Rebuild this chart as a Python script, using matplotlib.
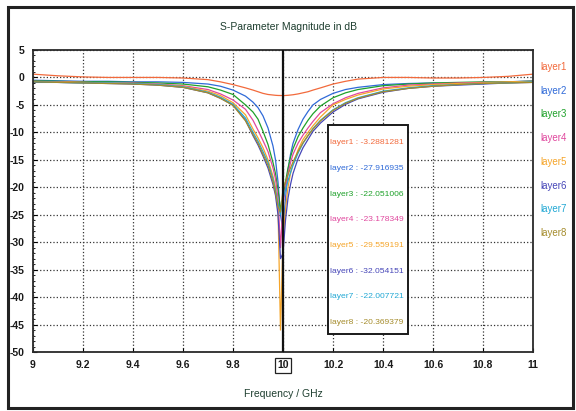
import matplotlib
matplotlib.use("Agg")
import matplotlib.pyplot as plt
from matplotlib.patches import Rectangle

plt.rcParams["font.family"] = ["Liberation Sans", "DejaVu Sans"]
plt.rcParams["axes.unicode_minus"] = False

# ---------- data ----------
freq = [9.0, 9.1, 9.2, 9.3, 9.4, 9.5, 9.6, 9.7, 9.75, 9.8, 9.85, 9.88, 9.9,
        9.92, 9.94, 9.96, 9.97, 9.98, 9.99, 10.0, 10.01, 10.02, 10.03, 10.04,
        10.06, 10.08, 10.1, 10.12, 10.15, 10.2, 10.25, 10.3, 10.4, 10.5, 10.6,
        10.7, 10.8, 10.9, 11.0]

layer1 = [0.6, 0.3, 0.1, 0.0, 0.0, 0.0, -0.1, -0.4, -0.8, -1.3, -1.9, -2.3, -2.6,
          -2.9, -3.1, -3.2, -3.25, -3.28, -3.29, -3.288, -3.28, -3.25, -3.2, -3.15,
          -3.0, -2.8, -2.6, -2.3, -1.9, -1.2, -0.7, -0.3, 0.0, 0.0, -0.1,
          -0.1, 0.0, 0.2, 0.6]
layer2 = [-0.5, -0.6, -0.7, -0.7, -0.8, -0.8, -0.9, -1.2, -1.6, -2.3, -3.4, -4.5, -5.5,
          -7.0, -9.2, -12.5, -15.0, -19.0, -25.0, -27.92, -22.0, -17.0, -14.0, -12.0,
          -9.5, -7.6, -6.2, -5.0, -4.0, -2.9, -2.2, -1.8, -1.3, -1.1, -1.0,
          -1.2, -1.1, -0.8, -0.6]
layer3 = [-0.6, -0.7, -0.8, -0.8, -0.9, -1.0, -1.2, -1.7, -2.3, -3.1, -5.0, -6.3, -7.6,
          -9.8, -12.2, -15.5, -17.5, -20.5, -24.0, -22.05, -19.0, -16.5, -14.5, -13.0,
          -10.8, -9.2, -7.8, -6.6, -5.2, -3.7, -2.8, -2.2, -1.5, -1.2, -1.0,
          -0.9, -0.8, -0.8, -0.7]
layer4 = [-0.7, -0.8, -0.9, -1.0, -1.0, -1.2, -1.5, -2.2, -3.0, -4.1, -5.8, -7.8, -9.6,
          -11.5, -13.5, -16.5, -18.5, -22.0, -31.0, -23.18, -20.0, -17.5, -15.5, -14.0,
          -12.0, -10.5, -9.2, -8.0, -6.4, -4.8, -3.7, -2.9, -1.9, -1.4, -1.2,
          -1.0, -0.9, -0.9, -0.8]
layer5 = [-0.8, -0.8, -0.9, -1.0, -1.1, -1.3, -1.6, -2.5, -3.3, -4.6, -6.8, -9.4, -11.0,
          -12.8, -15.0, -18.0, -20.0, -24.0, -46.0, -29.56, -24.0, -20.0, -17.5, -15.8,
          -13.2, -11.3, -10.0, -8.8, -7.2, -5.0, -4.0, -3.2, -2.1, -1.6, -1.3,
          -1.1, -1.0, -0.8, -0.7]
layer6 = [-0.9, -0.9, -1.0, -1.1, -1.2, -1.4, -1.8, -2.8, -3.8, -5.0, -7.8, -10.6, -12.3,
          -14.3, -16.5, -19.5, -21.5, -25.0, -33.0, -32.05, -26.0, -22.0, -19.5, -17.5,
          -14.8, -12.8, -11.3, -9.8, -8.3, -6.3, -4.9, -3.9, -2.7, -2.0, -1.6,
          -1.4, -1.2, -1.0, -0.9]
layer7 = [-0.8, -0.9, -1.0, -1.0, -1.1, -1.3, -1.7, -2.7, -3.6, -4.9, -7.4, -10.0, -11.6,
          -13.5, -15.5, -18.5, -20.5, -23.0, -25.0, -22.01, -20.5, -18.8, -17.3, -16.0,
          -13.8, -12.0, -10.6, -9.3, -7.8, -5.9, -4.6, -3.7, -2.5, -1.9, -1.5,
          -1.3, -1.1, -1.0, -0.8]
layer8 = [-0.8, -0.9, -1.0, -1.1, -1.2, -1.4, -1.8, -2.8, -3.8, -5.1, -7.9, -10.4, -12.0,
          -14.0, -16.0, -19.0, -21.0, -23.5, -24.5, -20.37, -19.0, -17.7, -16.5, -15.4,
          -13.5, -11.9, -10.6, -9.4, -7.9, -6.0, -4.7, -3.8, -2.6, -2.0, -1.6,
          -1.3, -1.1, -1.0, -0.9]

names = ["layer1", "layer2", "layer3", "layer4", "layer5", "layer6", "layer7", "layer8"]
series = [layer1, layer2, layer3, layer4, layer5, layer6, layer7, layer8]
marker_vals = ["-3.2881281", "-27.916935", "-22.051006", "-23.178349",
               "-29.559191", "-32.054151", "-22.007721", "-20.369379"]
colors = ["#f26a3c", "#2f6ad8", "#1fa12a", "#e0489e",
          "#f5a52a", "#4646b8", "#22a8d4", "#a58c2c"]

marker_f = 10.0
xticks = [9, 9.2, 9.4, 9.6, 9.8, 10, 10.2, 10.4, 10.6, 10.8, 11]
xtick_labels = ["9", "9.2", "9.4", "9.6", "9.8", "10", "10.2", "10.4", "10.6", "10.8", "11"]
yticks = list(range(5, -51, -5))

# ---------- figure ----------
W, H = 576, 411
fig = plt.figure(figsize=(W / 100, H / 100), dpi=100)
ax = fig.add_axes([33 / W, 1 - 352 / H, (533 - 33) / W, (352 - 50) / H])

# outer frame of the screenshot
fig.patches.append(Rectangle((8 / W, 3 / H), (573 - 8) / W, (404 - 3) / H,
                             transform=fig.transFigure, fill=False,
                             edgecolor="#222", lw=2.2))

for name, vals, c in zip(names, series, colors):
    ax.plot(freq, vals, color=c, lw=0.9)

ax.axvline(marker_f, color="#111", lw=1.6, zorder=5)

ax.set_xlim(9, 11)
ax.set_ylim(-50, 5)
ax.set_xticks(xticks)
ax.set_xticklabels(xtick_labels)
ax.set_yticks(yticks)
ax.set_yticks(range(-50, 6), minor=True)
ax.tick_params(axis="both", which="major", labelsize=7.5, length=3,
               direction="in", pad=6, width=0.8)
ax.tick_params(axis="y", which="minor", length=1.5, direction="in", width=0.6)
for lbl in ax.get_xticklabels() + ax.get_yticklabels():
    lbl.set_fontweight("bold")
    lbl.set_color("#1a1a1a")

ax.grid(True, which="major", color="#333", ls=":", lw=0.9)
for s in ax.spines.values():
    s.set_color("#2a2a2a")
    s.set_linewidth(1.3)

# boxed "10" tick label
for lbl in ax.get_xticklabels():
    if lbl.get_text() == "10":
        lbl.set_bbox(dict(facecolor="white", edgecolor="#222", lw=0.9, pad=1.8))

fig.text(0.5, 1 - 27 / H, "S-Parameter Magnitude in dB", ha="center", va="center",
         fontsize=7.5, color="#1f3f30")
fig.text(283 / W, 1 - 394 / H, "Frequency / GHz", ha="center", va="center",
         fontsize=7.5, color="#1f3f30")

# legend on the right
for i, (name, c) in enumerate(zip(names, colors)):
    fig.text(540 / W, 1 - (67 + i * 23.7) / H, name, color=c, fontsize=7,
             ha="left", va="center")

# marker readout box
box_x0, box_x1 = 10.18, 10.5
box_y0, box_y1 = -46.8, -8.6
ax.add_patch(Rectangle((box_x0, box_y0), box_x1 - box_x0, box_y1 - box_y0,
                       facecolor="white", edgecolor="#1a1a1a", lw=1.4, zorder=6))
for i, (name, v, c) in enumerate(zip(names, marker_vals, colors)):
    ax.text(box_x0 + 0.01, -11.9 - i * 4.68, f"{name} : {v}", color=c,
            fontsize=6.1, ha="left", va="center", zorder=7)

fig.savefig("out.png", dpi=100)
